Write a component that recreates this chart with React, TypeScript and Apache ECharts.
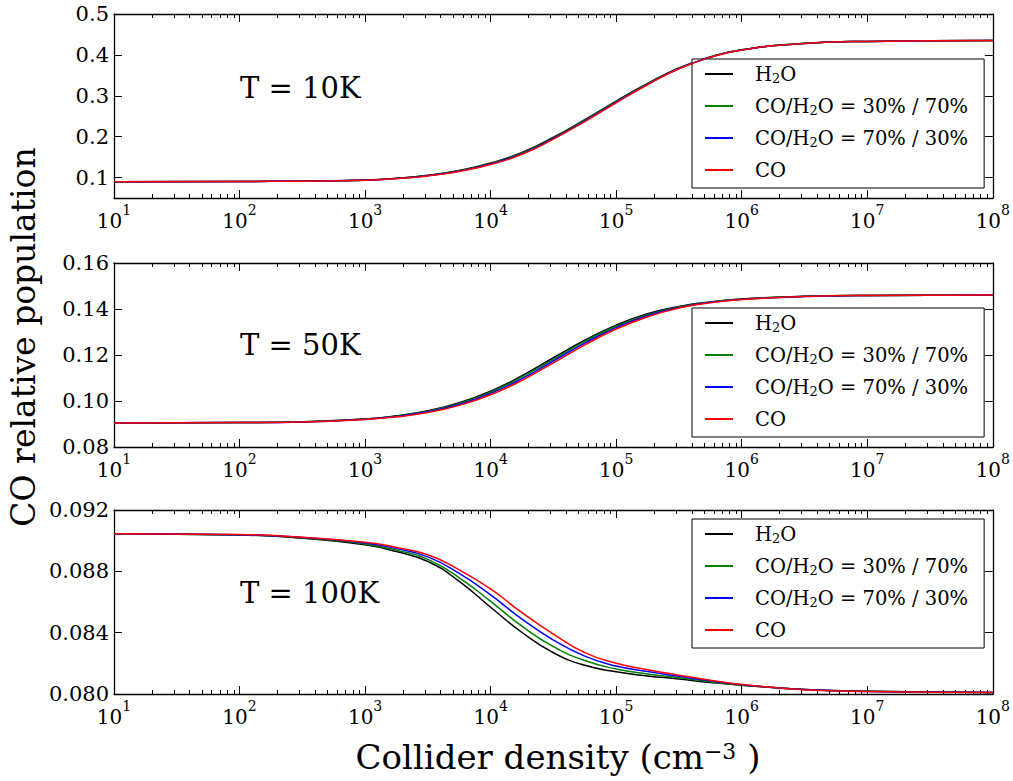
import React, { useEffect, useRef } from 'react';
import * as echarts from 'echarts';

// log10 of collider density (cm^-3)
const logDensity = [1, 2, 2.5, 3, 3.25, 3.5, 3.75, 4, 4.25, 4.5, 4.75, 5, 5.25, 5.5, 5.75, 6, 6.5, 7, 8];

const seriesNames = ['H2O', 'CO/H2O = 30% / 70%', 'CO/H2O = 70% / 30%', 'CO'];
const seriesColors = ['#000000', '#008000', '#0000ff', '#ff0000'];
const panelLabels = ['T = 10K', 'T = 50K', 'T = 100K'];

// T = 10K
const t10_h2o = [0.0900, 0.0905, 0.0913, 0.0938, 0.0982, 0.1055, 0.1175, 0.1355, 0.1615, 0.1985, 0.2415, 0.2870, 0.3300, 0.3680, 0.3950, 0.4125, 0.4282, 0.4330, 0.4350];
const t10_mix30 = [0.0900, 0.0905, 0.0913, 0.0937, 0.0980, 0.1050, 0.1167, 0.1345, 0.1602, 0.1972, 0.2402, 0.2858, 0.3290, 0.3673, 0.3947, 0.4123, 0.4281, 0.4330, 0.4350];
const t10_mix70 = [0.0900, 0.0905, 0.0912, 0.0936, 0.0977, 0.1045, 0.1158, 0.1333, 0.1585, 0.1955, 0.2385, 0.2843, 0.3280, 0.3666, 0.3943, 0.4121, 0.4280, 0.4330, 0.4350];
const t10_co = [0.0900, 0.0905, 0.0912, 0.0935, 0.0975, 0.1040, 0.1150, 0.1320, 0.1570, 0.1940, 0.2370, 0.2830, 0.3270, 0.3660, 0.3940, 0.4120, 0.4280, 0.4330, 0.4350];

// T = 50K
const t50_h2o = [0.0904, 0.0906, 0.0910, 0.0922, 0.0936, 0.0958, 0.0992, 0.1043, 0.1110, 0.1188, 0.1264, 0.1330, 0.1379, 0.1411, 0.1431, 0.1444, 0.1455, 0.1459, 0.1461];
const t50_mix30 = [0.0904, 0.0906, 0.0910, 0.0922, 0.0934, 0.0956, 0.0989, 0.1038, 0.1105, 0.1181, 0.1259, 0.1325, 0.1375, 0.1409, 0.1430, 0.1443, 0.1455, 0.1459, 0.1461];
const t50_mix70 = [0.0904, 0.0906, 0.0909, 0.0921, 0.0933, 0.0953, 0.0985, 0.1033, 0.1097, 0.1174, 0.1252, 0.1319, 0.1371, 0.1406, 0.1429, 0.1442, 0.1454, 0.1459, 0.1461];
const t50_co = [0.0904, 0.0906, 0.0909, 0.0920, 0.0931, 0.0950, 0.0981, 0.1027, 0.1090, 0.1166, 0.1244, 0.1313, 0.1366, 0.1404, 0.1427, 0.1441, 0.1454, 0.1459, 0.1461];

// T = 100K
const t100_h2o = [0.09044, 0.09037, 0.09016, 0.08973, 0.08929, 0.08864, 0.08735, 0.08566, 0.08401, 0.08269, 0.08187, 0.08145, 0.08118, 0.08098, 0.08075, 0.08057, 0.08030, 0.08018, 0.0801];
const t100_mix30 = [0.09044, 0.09038, 0.09018, 0.08979, 0.08938, 0.08878, 0.08758, 0.08604, 0.08442, 0.08309, 0.08218, 0.08163, 0.08131, 0.08106, 0.08080, 0.08059, 0.08030, 0.08018, 0.0801];
const t100_mix70 = [0.09045, 0.09039, 0.09020, 0.08985, 0.08948, 0.08894, 0.08786, 0.08646, 0.08488, 0.08352, 0.08247, 0.08182, 0.08146, 0.08115, 0.08086, 0.08061, 0.08029, 0.08017, 0.0801];
const t100_co = [0.09045, 0.0904, 0.09022, 0.0899, 0.08956, 0.08908, 0.08810, 0.08685, 0.08530, 0.08390, 0.08270, 0.08200, 0.08158, 0.08123, 0.08090, 0.08062, 0.08028, 0.08016, 0.0801];

const panelData = [
  [t10_h2o, t10_mix30, t10_mix70, t10_co],
  [t50_h2o, t50_mix30, t50_mix70, t50_co],
  [t100_h2o, t100_mix30, t100_mix70, t100_co],
];

// axis ticks
const xMajorExponents = [1, 2, 3, 4, 5, 6, 7, 8];
const xMinorMultipliers = [2, 3, 4, 5, 6, 7, 8, 9];
const yTicks = [
  [0.1, 0.2, 0.3, 0.4, 0.5],
  [0.08, 0.1, 0.12, 0.14, 0.16],
  [0.08, 0.084, 0.088, 0.092],
];
const yRanges = [
  [0.05, 0.5],
  [0.08, 0.16],
  [0.08, 0.092],
];
const yDecimals = [1, 2, 3];

const FONT = '"DejaVu Serif", serif';
const gridTops = [14, 263, 510];
const gridHeight = 184;
const legendTops = [59, 308, 519];
const labelYs = [88, 345, 593];

function legendFmt(name: string) {
  const parts = name.split('H2O');
  return '{g| }' + parts.map((p) => (p ? `{t|${p}}` : '')).join('{t|H}{s|2}{t|O}');
}

export default function App() {
  const ref = useRef<HTMLDivElement>(null);
  useEffect(() => {
    document.body.style.margin = '0';
    const chart = echarts.init(ref.current!, undefined, { renderer: 'svg' });
    const minorValues: number[] = [];
    for (let d = 1; d < 8; d++) {
      for (const m of xMinorMultipliers) minorValues.push(d + Math.log10(m));
    }
    const axisLine = { show: true, lineStyle: { color: '#000', width: 1.3 } };
    const grids: any[] = [];
    const xAxes: any[] = [];
    const yAxes: any[] = [];
    const series: any[] = [];
    const legends: any[] = [];
    for (let i = 0; i < 3; i++) {
      grids.push({ left: 114, width: 879, top: gridTops[i], height: gridHeight });
      const baseX = { gridIndex: i, type: 'value', min: 1, max: 8, interval: 1, splitLine: { show: false } };
      xAxes.push({
        ...baseX,
        position: 'bottom',
        axisLine,
        axisTick: { inside: true, length: 8, lineStyle: { color: '#000', width: 1 } },
        axisLabel: {
          margin: 5,
          formatter: (v: number) => `{b|10}{p|${Math.round(v)}}`,
          rich: {
            b: { fontSize: 20, fontFamily: FONT, color: '#000', lineHeight: 28, verticalAlign: 'bottom' },
            p: { fontSize: 14, fontFamily: FONT, color: '#000', lineHeight: 14, verticalAlign: 'top' },
          },
          customValues: xMajorExponents,
        },
      });
      xAxes.push({
        ...baseX,
        position: 'bottom',
        axisLine: { show: false },
        axisLabel: { show: false },
        axisTick: { inside: true, length: 4, customValues: minorValues, lineStyle: { color: '#000', width: 1 } },
      });
      xAxes.push({
        ...baseX,
        position: 'top',
        axisLine,
        axisLabel: { show: false },
        axisTick: { inside: true, length: 8, lineStyle: { color: '#000', width: 1 } },
      });
      xAxes.push({
        ...baseX,
        position: 'top',
        axisLine: { show: false },
        axisLabel: { show: false },
        axisTick: { inside: true, length: 4, customValues: minorValues, lineStyle: { color: '#000', width: 1 } },
      });
      const baseY = { gridIndex: i, type: 'value', min: yRanges[i][0], max: yRanges[i][1], splitLine: { show: false } };
      yAxes.push({
        ...baseY,
        position: 'left',
        axisLine,
        axisTick: { inside: true, length: 8, customValues: yTicks[i], lineStyle: { color: '#000', width: 1 } },
        axisLabel: {
          margin: 5,
          customValues: yTicks[i],
          formatter: (v: number) => v.toFixed(yDecimals[i]),
          fontSize: 21,
          fontFamily: FONT,
          color: '#000',
        },
      });
      yAxes.push({
        ...baseY,
        position: 'right',
        axisLine,
        axisLabel: { show: false },
        axisTick: { inside: true, length: 8, customValues: yTicks[i], lineStyle: { color: '#000', width: 1 } },
      });
      for (let s = 0; s < 4; s++) {
        series.push({
          type: 'line',
          name: seriesNames[s],
          xAxisIndex: i * 4,
          yAxisIndex: i * 2,
          data: logDensity.map((x, k) => [x, panelData[i][s][k]]),
          showSymbol: false,
          smooth: 0.5,
          color: seriesColors[s],
          lineStyle: { width: 1.5, color: seriesColors[s] },
          z: 2 + s,
        });
      }
      legends.push({
        show: true,
        left: 692,
        top: legendTops[i],
        orient: 'vertical',
        data: seriesNames,
        icon: 'rect',
        itemWidth: 28,
        itemHeight: 2,
        itemGap: 11,
        padding: [5, 16, 8, 13],
        borderColor: '#000',
        borderWidth: 1,
        borderRadius: 0,
        backgroundColor: '#fff',
        selectedMode: false,
        formatter: legendFmt,
        textStyle: {
          color: '#000',
          rich: {
            g: { width: 17, fontSize: 19.5, lineHeight: 22 },
            t: { fontSize: 19.5, fontFamily: FONT, color: '#000', lineHeight: 22 },
            s: { fontSize: 13, fontFamily: FONT, color: '#000', lineHeight: 14, verticalAlign: 'bottom' },
          },
        },
      });
    }
    const graphic: any[] = panelLabels.map((t, i) => ({
      type: 'text',
      x: 240,
      y: labelYs[i],
      style: { text: t, font: `29px ${FONT}`, fill: '#000', textVerticalAlign: 'middle' },
    }));
    graphic.push({
      type: 'text',
      x: 23,
      y: 337,
      rotation: Math.PI / 2,
      style: { text: 'CO relative population', font: `33px ${FONT}`, fill: '#000', textAlign: 'center', textVerticalAlign: 'middle' },
    });
    graphic.push({
      type: 'text',
      x: 558,
      y: 757,
      style: {
        text: '{b|Collider density (cm}{s|−3}{b| )}',
        textAlign: 'center',
        textVerticalAlign: 'middle',
        rich: {
          b: { fontSize: 34, fontFamily: FONT, fill: '#000', color: '#000', lineHeight: 34, verticalAlign: 'bottom' },
          s: { fontSize: 22, fontFamily: FONT, fill: '#000', color: '#000', lineHeight: 22, verticalAlign: 'top' },
        },
      },
    });
    chart.setOption({
      animation: false,
      backgroundColor: '#fff',
      grid: grids,
      xAxis: xAxes,
      yAxis: yAxes,
      series,
      legend: legends,
      graphic,
    });
    return () => chart.dispose();
  }, []);
  return <div ref={ref} style={{ width: 1013, height: 781 }} />;
}
